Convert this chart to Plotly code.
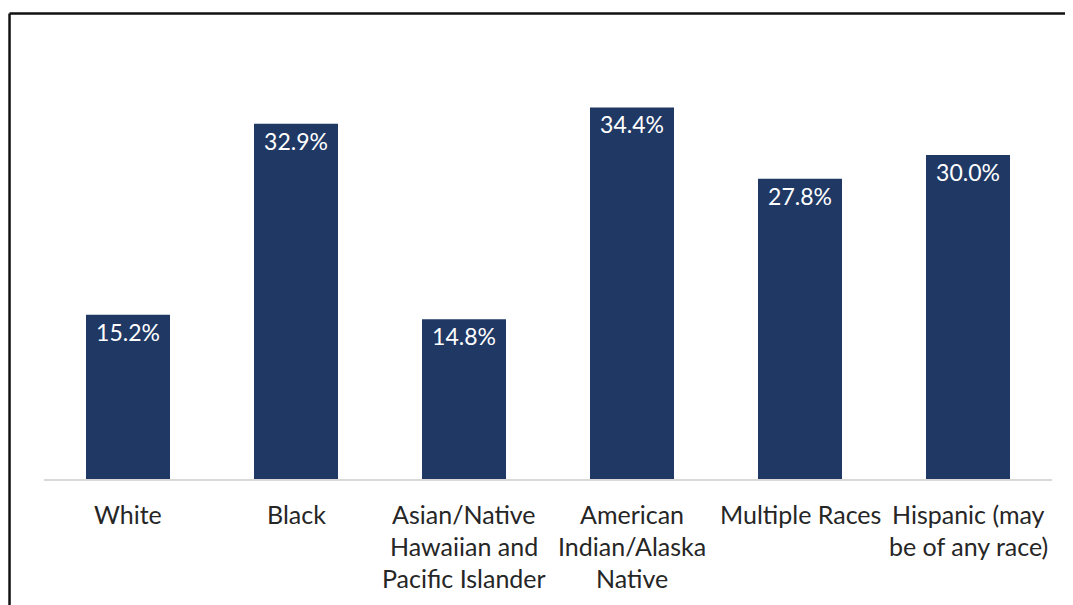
import plotly.graph_objects as go

categories = ["White", "Black", "Asian/Native Hawaiian and Pacific Islander",
              "American Indian/Alaska Native", "Multiple Races", "Hispanic (may be of any race)"]
label_lines = [["White"], ["Black"], ["Asian/Native", "Hawaiian and", "Pacific Islander"],
               ["American", "Indian/Alaska", "Native"], ["Multiple Races"],
               ["Hispanic (may", "be of any race)"]]
values = [15.2, 32.9, 14.8, 34.4, 27.8, 30.0]
value_labels = [f"{v:.1f}%" for v in values]

BAR = "#203864"
FONT = "Lato"
PLOT_H = 432.0

fig = go.Figure(go.Bar(
    x=categories, y=values, marker_color=BAR, marker_line_width=0,
    text=value_labels, textposition="inside", insidetextanchor="end",
    textfont=dict(family=FONT, size=23, color="white"), textangle=0,
    hoverinfo="skip",
))

annotations = []
for cat, lines in zip(categories, label_lines):
    for i, line in enumerate(lines):
        annotations.append(dict(
            x=cat, xref="x", y=(-35 - 32 * i) / PLOT_H, yref="paper",
            text=line, showarrow=False,
            font=dict(family=FONT, size=25, color="#262626"),
            xanchor="center", yanchor="middle",
        ))

fig.update_layout(
    width=1065, height=597,
    margin=dict(l=36, r=21, t=39, b=126),
    paper_bgcolor="white", plot_bgcolor="white",
    bargap=0.5, showlegend=False,
    xaxis=dict(showticklabels=False, showline=True, linecolor="#D9D9D9", linewidth=1.5,
               ticks="", showgrid=False, zeroline=False),
    yaxis=dict(range=[0, 40], visible=False, showgrid=False, zeroline=False),
    annotations=annotations,
    shapes=[
        dict(type="line", xref="paper", yref="paper", x0=-0.0342, x1=1.03, y0=1.0775, y1=1.0775,
             line=dict(color="#111", width=2.5)),
        dict(type="line", xref="paper", yref="paper", x0=-0.0342, x1=-0.0342, y0=1.0775, y1=-0.30,
             line=dict(color="#111", width=2.5)),
    ],
)

fig.write_html("out.html")
